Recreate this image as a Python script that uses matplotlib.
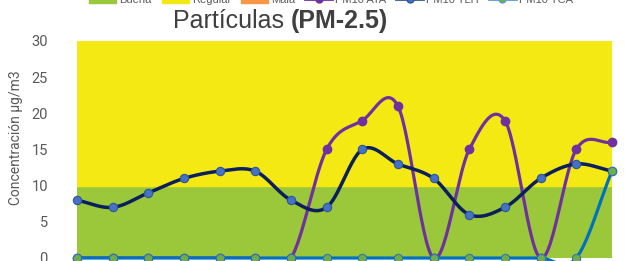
import numpy as np
import matplotlib
matplotlib.use("Agg")
from matplotlib import pyplot as plt
from matplotlib.patches import Patch
from matplotlib.lines import Line2D

plt.rcParams['font.family'] = ['Liberation Sans', 'DejaVu Sans']

# data
puntos = list(range(16))
ata = [0, 0, 0, 0, 0, 0, 0, 15, 19, 21, 0, 15, 19, 0, 15, 16]
tlh = [8, 7, 9, 11, 12, 12, 8, 7, 15, 13, 11, 6, 7, 11, 13, 12]
tca = [0, 0, 0, 0, 0, 0, 0, 0, 0, 0, 0, 0, 0, 0, 0, 12]
limite_buena = 10
limite_regular = 30
yticks = [0, 5, 10, 15, 20, 25, 30]


def suave(x, y, n=30):
    # catmull-rom smoothing, like excel's "smoothed line"
    x = np.asarray(x, float)
    y = np.asarray(y, float)
    px = np.concatenate([[2 * x[0] - x[1]], x, [2 * x[-1] - x[-2]]])
    py = np.concatenate([[2 * y[0] - y[1]], y, [2 * y[-1] - y[-2]]])
    xs, ys = [], []
    t = np.linspace(0, 1, n)
    for i in range(1, len(px) - 2):
        for p, out in ((px, xs), (py, ys)):
            p0, p1, p2, p3 = p[i - 1], p[i], p[i + 1], p[i + 2]
            out.extend(0.5 * ((2 * p1) + (-p0 + p2) * t
                              + (2 * p0 - 5 * p1 + 4 * p2 - p3) * t ** 2
                              + (-p0 + 3 * p1 - 3 * p2 + p3) * t ** 3))
    return xs, ys


fig = plt.figure(figsize=(6.25, 2.61), dpi=100)
ax = fig.add_axes([0.1232, 0.0115, 0.8558, 0.8315])

ax.axhspan(0, limite_buena, color="#9BC83B", zorder=0)
ax.axhspan(limite_buena, limite_regular, color="#F5E913", zorder=0)

sx, sy = suave(puntos, ata)
ax.plot(sx, sy, color="#7030A0", lw=2.3, zorder=3)
ax.plot(puntos, ata, ls="none", marker="o", ms=6, color="#7030A0", zorder=4, clip_on=False)

sx, sy = suave(puntos, tlh)
ax.plot(sx, sy, color="#0A1F5C", lw=2.5, zorder=5)
ax.plot(puntos, tlh, ls="none", marker="o", ms=6, mfc="#4472C4", mec="#2F5597",
        mew=0.8, zorder=6, clip_on=False)

sx, sy = suave(puntos, tca)
ax.plot(sx, sy, color="#0070C0", lw=2.3, zorder=7, clip_on=False)
ax.plot(puntos, tca, ls="none", marker="o", ms=6, mfc="#70AD47", mec="#2E75B6",
        mew=0.8, zorder=8, clip_on=False)

ax.set_xlim(0, 15)
ax.set_ylim(0, 30)
ax.set_yticks(yticks)
ax.set_xticks([])
ax.tick_params(axis="y", length=0, pad=21, labelsize=10.5, labelcolor="#595959")
for lbl in ax.get_yticklabels():
    lbl.set_family(["Roboto", "DejaVu Sans"])
for s in ax.spines.values():
    s.set_visible(False)
ax.set_ylabel("Concentración µg/m3", fontsize=10, color="#595959",
              family=["Roboto", "DejaVu Sans"])
ax.yaxis.set_label_coords(-0.101, 0.555)

fig.text(0.466, 0.918, "Partículas ", ha="right", va="center", fontsize=18, color="#404040")
fig.text(0.466, 0.918, "(PM-2.5)", ha="left", va="center", fontsize=18,
         fontweight="bold", color="#404040")

handles = [
    Patch(color="#9BC83B", label="Buena"),
    Patch(color="#F5E913", label="Regular"),
    Patch(color="#F79646", label="Mala"),
    Line2D([], [], color="#7030A0", lw=2, marker="o", ms=5, label="PM10 ATA"),
    Line2D([], [], color="#2F5597", lw=2, marker="o", ms=5, mfc="#4472C4", label="PM10 TLH"),
    Line2D([], [], color="#5B9BD5", lw=2, marker="o", ms=5, mfc="#70AD47", label="PM10 TCA"),
]
leg = fig.legend(handles=handles, loc="center", bbox_to_anchor=(0.53, 1.0), ncol=6,
                 frameon=False, fontsize=8, handlelength=2.4, columnspacing=0.9,
                 handletextpad=0.3)
for t in leg.get_texts():
    t.set_color("#595959")

fig.savefig("out.png", dpi=100)
